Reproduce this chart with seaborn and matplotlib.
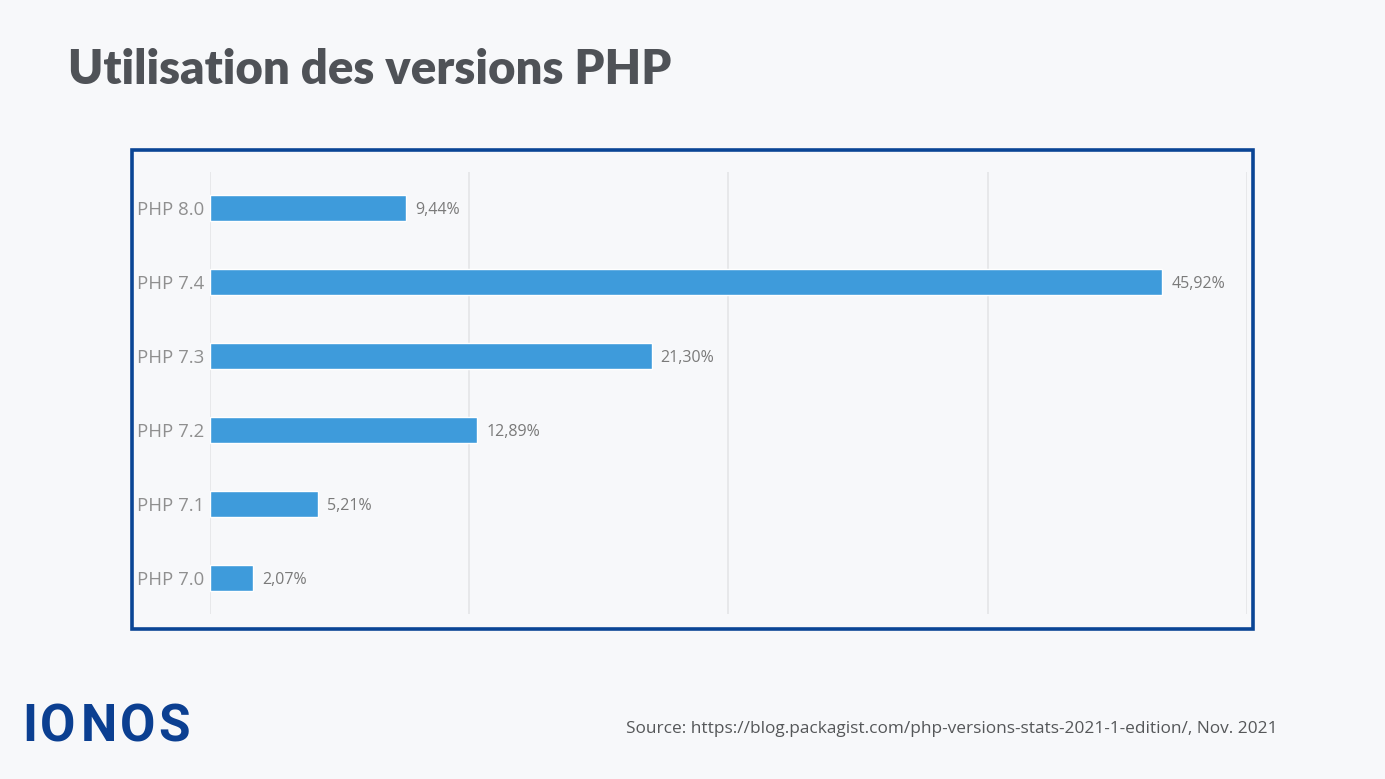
import matplotlib
matplotlib.use("Agg")
import matplotlib.pyplot as plt
import seaborn as sns
import pandas as pd
from matplotlib.patches import Rectangle

versions = ["PHP 8.0", "PHP 7.4", "PHP 7.3", "PHP 7.2", "PHP 7.1", "PHP 7.0"]
shares = [9.44, 45.92, 21.30, 12.89, 5.21, 2.07]
value_labels = ["9,44%", "45,92%", "21,30%", "12,89%", "5,21%", "2,07%"]
grid_ticks = [0, 12.5, 25, 37.5, 50]

title = "Utilisation des versions PHP"
source = "Source: https://blog.packagist.com/php-versions-stats-2021-1-edition/, Nov. 2021"
logo_letters = ["I", "O", "N", "O", "S"]

BG = "#f7f8fa"
sns.set_theme(style="white")
plt.rcParams["font.family"] = ["Open Sans", "DejaVu Sans"]

df = pd.DataFrame({"version": versions, "share": shares})

fig = plt.figure(figsize=(13.85, 7.79), dpi=100, facecolor=BG)
ax = fig.add_axes([0.1516, 0.2118, 0.7487, 0.5674])
ax.set_facecolor(BG)

sns.barplot(data=df, x="share", y="version", orient="h", color="#3e9bdb",
            saturation=1, width=0.35, ax=ax, zorder=3)

ax.set_xlim(0, 50)
ax.set_ylim(5.48, -0.48)
ax.set_xticks(grid_ticks)
ax.set_xticklabels([])
ax.grid(axis="x", color="#e4e5e7", linewidth=1.2, zorder=0)
ax.grid(axis="y", visible=False)
ax.tick_params(axis="x", length=0)
ax.tick_params(axis="y", length=0, pad=52.5, labelsize=13.4, labelcolor="#8f8f8f")
for lab in ax.get_yticklabels():
    lab.set_horizontalalignment("left")
ax.set_xlabel("")
ax.set_ylabel("")
for s in ax.spines.values():
    s.set_visible(False)

for i, (v, t) in enumerate(zip(shares, value_labels)):
    ax.annotate(t, xy=(v, i), xytext=(6.5, 0), textcoords="offset points",
                ha="left", va="center_baseline", fontsize=11.5, color="#7a7a7a")

# panel border
fig.patches.append(Rectangle((132 / 1385, 1 - 629 / 779), (1253 - 132) / 1385,
                             (629 - 150) / 779, transform=fig.transFigure,
                             fill=False, edgecolor="#0a4595", linewidth=2.6,
                             zorder=5))

fig.text(68 / 1385, 1 - 70 / 779, title, ha="left", va="center",
         fontsize=34, fontweight="heavy", color="#4f5257",
         family=["Lato", "DejaVu Sans"])

fig.text(1278 / 1385, 1 - 727 / 779, source, ha="right", va="center_baseline",
         fontsize=12.4, color="#555759")

logo_x = [30, 58, 99, 138, 174]
for ch, xc in zip(logo_letters, logo_x):
    fig.text(xc / 1385, 1 - 727 / 779, ch, ha="center", va="center",
             fontsize=37, fontweight="bold", color="#0b3f91",
             family=["Roboto", "DejaVu Sans"])

fig.savefig("out.png", dpi=100, facecolor=BG)
